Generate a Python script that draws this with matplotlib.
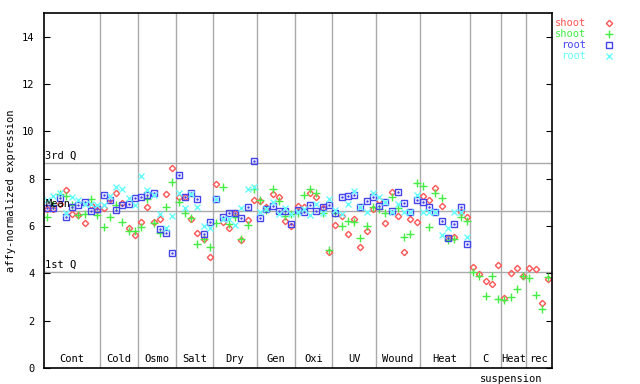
import numpy as np
import matplotlib
matplotlib.use('Agg')
import matplotlib.pyplot as plt
from matplotlib.lines import Line2D

plt.rcParams['font.family'] = ['DejaVu Sans Mono']

groups = ['Cont', 'Cold', 'Osmo', 'Salt', 'Dry', 'Gen', 'Oxi', 'UV',
          'Wound', 'Heat', 'C', 'Heat', 'rec']
group_sizes = [9, 6, 6, 6, 7, 6, 6, 7, 7, 8, 5, 4, 4]

shoot_a = [6.73, 6.70, 6.95, 7.52, 6.50, 6.46, 6.11, 6.88, 6.67,
           6.74, 7.12, 7.38, 6.98, 5.90, 5.62,
           6.18, 6.81, 6.18, 6.28, 7.35, 8.43,
           7.24, 7.21, 6.29, 5.72, 5.43, 4.70,
           7.77, 6.18, 5.90, 6.53, 5.41, 6.25, 7.10,
           7.07, 6.81, 7.35, 7.21, 6.22, 6.00,
           6.85, 6.82, 7.38, 7.24, 6.75, 4.92,
           6.04, 6.44, 5.65, 6.28, 5.10, 5.79, 6.72,
           7.10, 6.11, 7.45, 6.42, 4.89, 6.28, 6.18,
           7.27, 7.10, 7.60, 6.85, 5.50, 5.55, 6.61, 6.40,
           4.25, 3.96, 3.69, 3.53, 4.34,
           2.94, 4.00, 4.21, 3.89,
           4.21, 4.17, 2.73, 3.74]
shoot_b = [6.37, 6.88, 7.34, 7.28, 6.89, 6.46, 6.50, 7.13, 6.46,
           5.97, 6.36, 6.88, 6.18, 5.80, 5.80,
           5.94, 7.12, 6.14, 5.69, 6.81, 7.84,
           7.00, 6.56, 6.32, 5.24, 5.43, 5.10,
           6.11, 7.66, 6.08, 6.40, 5.46, 6.04, 7.55,
           7.10, 6.67, 7.55, 7.07, 6.42, 6.50,
           6.55, 7.31, 7.55, 7.38, 6.54, 4.99,
           6.54, 6.01, 6.22, 6.18, 5.48, 6.00, 6.79,
           6.70, 6.54, 7.21, 6.75, 5.52, 5.66, 7.80,
           7.69, 5.94, 7.38, 7.17, 5.41, 5.44, 6.40, 6.23,
           4.04, 3.89, 3.04, 3.89, 2.90,
           2.87, 3.00, 3.32, 3.89,
           3.79, 3.07, 2.48, 3.86]
root_a = [6.74, 6.74, 7.17, 6.39, 6.79, 6.89, 7.00, 6.63, 6.72,
          7.31, 7.10, 6.67, 6.88, 6.95, 7.17,
          7.21, 7.31, 7.38, 5.86, 5.69, 4.84,
          8.15, 7.21, 7.38, 7.12, 5.66, 6.18,
          7.12, 6.36, 6.56, 6.53, 6.32, 6.81, 8.74,
          6.32, 6.70, 6.84, 6.65, 6.65, 6.08,
          6.68, 6.58, 6.89, 6.62, 6.79, 6.89,
          6.54, 7.21, 7.28, 7.31, 6.82, 7.07, 7.21,
          6.84, 7.00, 6.63, 7.42, 6.96, 6.58, 7.10,
          7.03, 6.79, 6.58, 6.22, 5.48, 6.08, 6.79, 5.24]
root_b = [7.10, 7.27, 7.38, 6.53, 7.24, 7.10, 6.95, 6.95, 6.88,
          6.90, 7.26, 7.66, 7.55, 7.17, 6.88,
          8.11, 7.52, 7.31, 6.50, 5.90, 6.42,
          7.38, 6.74, 7.35, 6.81, 5.99, 5.90,
          7.12, 6.28, 6.29, 6.04, 6.74, 7.55, 7.63,
          6.60, 6.70, 7.03, 6.50, 6.74, 6.50,
          6.60, 6.70, 6.46, 6.93, 6.54, 7.13,
          6.68, 6.49, 6.95, 7.49, 6.82, 6.60, 7.38,
          7.24, 7.00, 6.60, 6.93, 6.60, 6.58, 7.31,
          6.60, 6.60, 6.58, 5.62, 5.90, 6.61, 6.61, 5.55]

q1, mean, q3 = 4.06, 6.62, 8.68

red = '#ff5555'
green = '#44ee44'
blue = '#4444ee'
cyan = '#66ffff'

fig = plt.figure(figsize=(6.4, 3.84), dpi=100)
ax = fig.add_axes([44/640, 16/384, 508/640, 355/384])

n = len(shoot_a)
x = np.arange(n)
xr = np.arange(len(root_a))

ax.plot(x, shoot_a, 'D', ms=3.2, mfc='none', mec=red, mew=1.0, ls='none')
ax.plot(x, shoot_b, '+', ms=5.5, color=green, mew=1.0, ls='none')
ax.plot(xr, root_a, 's', ms=4.3, mfc='none', mec=blue, mew=1.0, ls='none')
ax.plot(xr, root_a, '.', ms=1.5, color=blue, ls='none')
ax.plot(xr, root_b, 'x', ms=4.2, color=cyan, mew=1.0, ls='none')

for yv, lab in [(q3, '3rd Q'), (mean, 'Mean'), (q1, '1st Q')]:
    ax.axhline(yv, color='#aaaaaa', lw=1, zorder=0)
    ax.text(-0.3, yv + 0.08, lab, fontsize=7.5, va='bottom', ha='left')

edges = np.cumsum(group_sizes)
for e in edges[:-1]:
    ax.axvline(e - 0.5, color='#aaaaaa', lw=1, zorder=0)

starts = np.concatenate([[0], edges[:-1]])
for g, s, e in zip(groups, starts, edges):
    ax.text((s + e - 1) / 2, 0.15, g, fontsize=7.5, ha='center', va='bottom')
c_mid = (starts[10] + edges[10] - 1) / 2 + 4
ax.text(c_mid, -0.45, 'suspension', fontsize=7.5, ha='center', va='center')

ax.set_xlim(-0.5, 80.6)
ax.set_ylim(0, 15)
ax.set_xticks([])
ax.set_yticks(np.arange(0, 15, 2))
ax.tick_params(axis='y', direction='in', length=4, labelsize=7.5,
               right=True, pad=7)
ax.set_ylabel('affy-normalized expression', fontsize=7.5, labelpad=4)
for sp in ax.spines.values():
    sp.set_linewidth(1.2)

# legend on the right
leg = [('shoot', red, 'D', 3.2), ('shoot', green, '+', 5.5),
       ('root', blue, 's', 4.3), ('root', cyan, 'x', 4.2)]
for k, (lab, col, mk, ms) in enumerate(leg):
    yy = 1 - (23 + 11 * k) / 384
    fig.text(586 / 640, yy, lab, color=col, fontsize=7.5, ha='right', va='center')
    if mk in ('D', 's'):
        fig.add_artist(Line2D([609 / 640], [yy], marker=mk, ms=ms, mfc='none',
                              mec=col, mew=1.0, ls='none'))
    else:
        fig.add_artist(Line2D([609 / 640], [yy], marker=mk, ms=ms, color=col,
                              mew=1.0, ls='none'))

fig.savefig('out.png', dpi=100)
